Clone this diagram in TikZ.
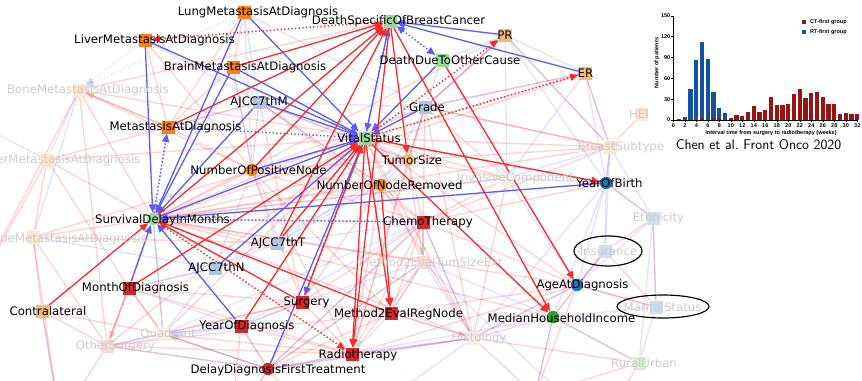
\documentclass[tikz,border=0pt]{standalone}
\usepackage{fontspec}
\setmainfont{DejaVu Sans}
\newfontfamily\chartfont{Liberation Sans}
\usetikzlibrary{arrows.meta}
\pgfdeclarelayer{edges}
\pgfsetlayers{edges,main}

\definecolor{metaorange}{RGB}{250,128,20}
\definecolor{numorange}{RGB}{255,127,14}
\definecolor{paleorange}{RGB}{247,185,120}
\definecolor{paleblue}{RGB}{175,198,226}
\definecolor{palegreen}{RGB}{152,216,152}
\definecolor{treatred}{RGB}{214,39,40}
\definecolor{demoblue}{RGB}{31,119,180}
\definecolor{demogreen}{RGB}{44,160,44}
\definecolor{fadeorange}{RGB}{253,228,205}
\definecolor{fadepink}{RGB}{247,215,215}
\definecolor{fadecream}{RGB}{245,236,226}
\definecolor{fadeblue}{RGB}{205,222,238}
\definecolor{fadegreen}{RGB}{212,238,212}
\definecolor{linered}{RGB}{255,40,40}
\definecolor{lineblue}{RGB}{90,90,255}
\definecolor{tipgreen}{RGB}{90,160,90}
\definecolor{ctred}{RGB}{155,18,18}
\definecolor{rtblue}{RGB}{16,84,160}

\begin{document}
\begin{tikzpicture}[x=0.03cm, y=-0.03cm,
  sq/.style={rectangle, minimum size=0.39cm, inner sep=0pt},
  ci/.style={circle, minimum size=0.37cm, inner sep=0pt},
  lbl/.style={inner sep=0pt, font=\fontsize{10}{12}\selectfont},
  dimlbl/.style={lbl, text=black!20},
  tip/.style={-{Triangle[length=7pt,width=6pt]}},
  sr/.style={draw=linered, line width=1.1pt, tip},
  sb/.style={draw=lineblue, line width=1.1pt, tip},
  srd/.style={sr, dotted, line width=1.3pt},
  sbd/.style={sb, dotted, line width=1.3pt},
  fr/.style={draw=linered, opacity=0.2, line width=1.2pt},
  fb/.style={draw=lineblue, opacity=0.17, line width=1.2pt},
  gtip/.style={-{Triangle[length=7pt,width=6pt,color=tipgreen]}},
  chartlbl/.style={inner sep=0pt, font=\chartfont\bfseries\fontsize{4.7}{5.5}\selectfont},
  ]
\useasboundingbox (0,0) rectangle (862,380);

\node[sq, fill=metaorange] (lung) at (244,12) {};
\node[sq, fill=metaorange] (liver) at (145,40) {};
\node[sq, fill=metaorange] (brain) at (233,67) {};
\node[sq, fill=fadeorange] (bone) at (79,90) {};
\node[sq, fill=paleblue] (ajccm) at (259,102) {};
\node[sq, fill=metaorange] (meta) at (168,127) {};
\node[sq, fill=fadeorange] (othmeta) at (47,160) {};
\node[ci, fill=palegreen] (surv) at (153,219) {};
\node[sq, fill=fadeorange] (dlnmeta) at (33,237) {};
\node[sq, fill=paleblue] (ajcct) at (277,243) {};
\node[sq, fill=paleblue] (ajccn) at (215,268) {};
\node[sq, fill=treatred] (month) at (129,288) {};
\node[sq, fill=paleorange] (contra) at (42,311) {};
\node[sq, fill=treatred] (yeardx) at (241,326) {};
\node[sq, fill=fadecream] (quad) at (163,334) {};
\node[sq, fill=fadepink] (othsurg) at (107,346) {};
\node[ci, fill=treatred] (delay) at (268,369) {};
\node[sq, fill=treatred] (surg) at (302,302) {};
\node[sq, fill=treatred] (radio) at (352,354) {};
\node[sq, fill=treatred] (meth) at (391,313) {};
\node[sq, fill=fadepink] (methts) at (423,262) {};
\node[sq, fill=treatred] (chemo) at (423,222) {};
\node[sq, fill=fadecream] (hist) at (473,338) {};
\node[ci, fill=numorange] (nrem) at (381,185) {};
\node[ci, fill=paleorange] (tsize) at (408,160) {};
\node[ci, fill=numorange] (npos) at (252,170) {};
\node[sq, fill=palegreen] (vital) at (365,138) {};
\node[sq, fill=paleblue] (grade) at (425,107) {};
\node[sq, fill=palegreen] (dbc) at (390,21) {};
\node[sq, fill=palegreen] (doc) at (442,60) {};
\node[sq, fill=paleorange] (pr) at (505,35) {};
\node[sq, fill=paleorange] (er) at (585,73) {};
\node[sq, fill=fadecream] (invas) at (507,178) {};
\node[sq, fill=fadeorange] (bsub) at (610,147) {};
\node[sq, fill=fadeorange] (her) at (642,114) {};
\node[ci, fill=demoblue] (ybirth) at (606,183) {};
\node[sq, fill=fadeblue] (ethn) at (653,218) {};
\node[sq, fill=fadeblue] (insur) at (605,251) {};
\node[ci, fill=demoblue] (agedx) at (577,285) {};
\node[ci, fill=demogreen] (income) at (553,317) {};
\node[sq, fill=fadeblue] (marital) at (656,307) {};
\node[sq, fill=fadegreen] (rural) at (639,363) {};

\node[lbl] (lung-l) at (258,12) {LungMetastasisAtDiagnosis};
\node[lbl] (liver-l) at (154.5,40) {LiverMetastasisAtDiagnosis};
\node[lbl] (brain-l) at (245,67) {BrainMetastasisAtDiagnosis};
\node[dimlbl] (bone-l) at (88,90) {BoneMetastasisAtDiagnosis};
\node[lbl] (ajccm-l) at (259,102) {AJCC7thM};
\node[lbl] (meta-l) at (175.5,127) {MetastasisAtDiagnosis};
\node[dimlbl, anchor=east] (othmeta-l) at (140.5,160) {OtherMetastasisAtDiagnosis};
\node[lbl] (surv-l) at (162.5,220) {SurvivalDelayInMonths};
\node[dimlbl, anchor=east] (dlnmeta-l) at (147,239) {DistantLymphNodeMetastasisAtDiagnosis};
\node[lbl] (ajcct-l) at (278,243) {AJCC7thT};
\node[lbl] (ajccn-l) at (216.5,268) {AJCC7thN};
\node[lbl] (month-l) at (135.5,288) {MonthOfDiagnosis};
\node[lbl] (contra-l) at (48,311) {Contralateral};
\node[lbl] (yeardx-l) at (247,326) {YearOfDiagnosis};
\node[dimlbl] (quad-l) at (168,334) {Quadrant};
\node[dimlbl] (othsurg-l) at (115.5,346) {OtherSurgery};
\node[lbl] (delay-l) at (278,370) {DelayDiagnosisFirstTreatment};
\node[lbl] (surg-l) at (306.5,302) {Surgery};
\node[lbl] (radio-l) at (358,355) {Radiotherapy};
\node[lbl] (meth-l) at (398.5,314) {Method2EvalRegNode};
\node[dimlbl] (methts-l) at (431,262) {Method2EvalTumSizeExt};
\node[lbl] (chemo-l) at (428,222) {ChemoTherapy};
\node[dimlbl] (hist-l) at (479,338) {Histology};
\node[lbl] (nrem-l) at (389.5,185) {NumberOfNodeRemoved};
\node[lbl] (tsize-l) at (412,160) {TumorSize};
\node[lbl] (npos-l) at (258.5,170) {NumberOfPositiveNode};
\node[lbl] (vital-l) at (369,138) {VitalStatus};
\node[lbl] (grade-l) at (427,107) {Grade};
\node[lbl] (dbc-l) at (398.5,21) {DeathSpecificOfBreastCancer};
\node[lbl] (doc-l) at (450,60) {DeathDueToOtherCause};
\node[lbl] (pr-l) at (505,35) {PR};
\node[lbl] (er-l) at (585.5,73) {ER};
\node[dimlbl] (invas-l) at (515.5,178) {InvasiveComponent};
\node[dimlbl] (bsub-l) at (621,147) {BreastSubtype};
\node[dimlbl] (her-l) at (645,114) {HER2};
\node[lbl] (ybirth-l) at (609.5,183) {YearOfBirth};
\node[dimlbl] (ethn-l) at (658.5,218) {Ethnicity};
\node[dimlbl] (insur-l) at (608.5,251) {Insurance};
\node[lbl] (agedx-l) at (582.5,285) {AgeAtDiagnosis};
\node[lbl] (income-l) at (561.5,318) {MedianHouseholdIncome};
\node[dimlbl] (marital-l) at (662.5,307) {MaritalStatus};
\node[dimlbl] (rural-l) at (644,363) {RuralUrban};

\draw[line width=1pt] (608,251) ellipse [x radius=1.02cm, y radius=0.45cm];
\draw[line width=1pt] (663,306.5) ellipse [x radius=1.38cm, y radius=0.345cm];

\begin{pgfonlayer}{edges}
\clip (0,0) rectangle (862,380);
\coordinate (offA) at (60,420);
\coordinate (offB) at (230,430);
\coordinate (offC) at (330,440);
\coordinate (offD) at (535,395);
\coordinate (offE) at (600,430);
\coordinate (offF) at (-30,300);
\coordinate (offG) at (-30,120);

\foreach \a/\b in {bone/meta, bone/surv, bone/vital, bone/npos, bone/dbc, bone/othsurg, bone/offF,
  othmeta/meta, othmeta/surv, othmeta/vital, othmeta/dlnmeta, othmeta/offF, othmeta/month,
  dlnmeta/surv, dlnmeta/vital, dlnmeta/othsurg, dlnmeta/offA, dlnmeta/ajcct,
  liver/meta, liver/npos, lung/meta, lung/brain, brain/meta, brain/npos, meta/npos, meta/ajccm,
  ajccm/npos, ajccm/tsize, ajccm/nrem, ajccm/chemo, ajccm/surg,
  npos/surv, npos/nrem, npos/tsize, npos/chemo, npos/surg, npos/radio, npos/meth,
  nrem/surv, nrem/chemo, nrem/radio, nrem/surg, nrem/hist,
  tsize/surv, tsize/grade, tsize/chemo, tsize/methts, tsize/radio,
  grade/surv, grade/chemo, grade/er, grade/pr, grade/bsub, grade/hist, grade/radio,
  chemo/surv, chemo/surg, chemo/meth, chemo/hist, chemo/delay,
  surg/radio, surg/delay, surg/othsurg, surg/quad, surg/meth,
  radio/delay, radio/quad, radio/othsurg, radio/hist,
  meth/delay, meth/methts, meth/othsurg,
  methts/surv, methts/vital, methts/radio, methts/delay,
  hist/surv, hist/vital, hist/delay, hist/agedx, hist/offD,
  quad/surv, quad/vital, quad/delay, quad/month,
  othsurg/surv, othsurg/vital, othsurg/delay, othsurg/contra, othsurg/month, othsurg/offA,
  contra/quad, contra/offA, contra/dlnmeta,
  month/surg, month/radio, month/quad,
  yeardx/surg, yeardx/radio, yeardx/delay, yeardx/offB,
  delay/offB, delay/offC,
  invas/vital, invas/surv, invas/tsize, invas/grade, invas/chemo, invas/hist,
  bsub/vital, bsub/surv, bsub/her, bsub/er, bsub/pr, bsub/grade, bsub/tsize, bsub/chemo,
  er/vital, pr/surv, er/surv, pr/grade,
  agedx/vital, agedx/surv, agedx/chemo, agedx/radio, agedx/insur, agedx/marital, agedx/offD, agedx/meth,
  income/surv, income/hist, income/rural, income/offD, income/insur,
  ybirth/vital, ybirth/bsub, ybirth/chemo,
  ethn/insur, ethn/marital, ethn/ybirth,
  insur/marital, marital/agedx,
  rural/hist, rural/offD, rural/offE}
  \draw[fr] (\a) -- (\b);

\foreach \a/\b in {bone/othmeta, bone/dlnmeta, othmeta/offG,
  liver/ajccm, lung/ajccm, lung/grade, lung/npos, brain/ajccm, brain/npos, meta/ajccm, meta/surv,
  ajccm/grade, ajccm/tsize, ajccm/nrem,
  ajccn/ajcct, ajccn/npos, ajccn/nrem, ajccn/month, ajcct/npos, ajcct/nrem, ajcct/tsize, ajcct/chemo,
  npos/grade, nrem/tsize, nrem/grade, tsize/grade, grade/pr, grade/er,
  pr/er, pr/invas, pr/bsub, pr/ybirth, er/bsub, er/invas, er/ybirth,
  doc/grade, doc/invas, doc/pr,
  invas/bsub, invas/ybirth, invas/agedx, invas/surv,
  bsub/ybirth, bsub/ethn, bsub/insur,
  ybirth/ethn, ybirth/insur, ybirth/agedx, ybirth/income, ybirth/hist,
  ethn/rural, ethn/marital, ethn/agedx,
  marital/rural, marital/income, insur/agedx, agedx/income, agedx/hist,
  income/rural, income/methts, income/offD, income/delay,
  hist/methts, hist/chemo, hist/radio, hist/meth, hist/delay, hist/offC,
  methts/chemo, methts/surg, methts/meth, methts/delay, methts/offE,
  chemo/delay, chemo/yeardx, chemo/quad,
  surg/yeardx, meth/radio,
  delay/yeardx, delay/quad, delay/offB,
  quad/othsurg, quad/yeardx, quad/ajccn, quad/surv,
  othsurg/yeardx, othsurg/delay,
  contra/offA, month/yeardx, month/ajccn, dlnmeta/ajccn}
  \draw[fb] (\a) -- (\b);

\draw[fb, dotted, tip] (liver) -- (bone);
\draw[fb, dotted, tip] (lung) -- (bone);
\draw[fr, tip] (meta) -- (bone);
\draw[fr, tip] (month) -- (othsurg);
\draw[fr, tip] (meth) -- (hist);
\draw[fb, tip] (yeardx) -- (quad);
\draw[fr, gtip] (chemo) -- (radio);
\draw[fr, gtip] (tsize) -- (vital);
\draw[fr, gtip] (chemo) -- (methts);
\draw[fr, gtip] (delay) -- (quad);
\draw[fr, gtip] (ajcct) -- (surv);

\foreach \a/\b in {liver/surv, lung/surv, brain/surv, ajccm/surv, month/surv, yeardx/surv, ybirth/surv,
  liver/vital, lung/vital, brain/vital, ajccm/vital, npos/vital, doc/vital, grade/vital,
  ajccn/vital, delay/vital, surv/vital, vital/dbc, pr/dbc, er/dbc}
  \draw[sb] (\a) -- (\b);

\foreach \a/\b in {meta/vital, surv/meta, chemo/surv, dbc/vital, vital/surg}
  \draw[sbd] (\a) -- (\b);
\draw[sbd, {Triangle[length=7pt,width=6pt]}-{Triangle[length=7pt,width=6pt]}] (dbc) -- (doc);

\foreach \a/\b in {contra/surv, surg/surv, meth/surv, month/vital, yeardx/vital, ajcct/vital, surg/vital,
  surv/dbc, meta/dbc, npos/dbc, ajcct/dbc, brain/dbc, vital/ybirth, vital/income, vital/radio,
  vital/meth, nrem/meth, dbc/tsize, dbc/radio, dbc/income, doc/agedx}
  \draw[sr] (\a) -- (\b);

\foreach \a/\b in {vital/pr, vital/er, dbc/liver, surv/radio}
  \draw[srd] (\a) -- (\b);
\end{pgfonlayer}

% inset bar chart
\fill[white] (648,0) rectangle (862,131);
\draw[line width=0.4pt] (673.3,15.7) -- (673.3,120) -- (857.3,120);
\foreach \v in {0,30,...,150} {
  \draw[line width=0.4pt] (671.3,{120-0.694*\v}) -- (673.3,{120-0.694*\v});
  \node[chartlbl, anchor=east] (yt\v) at (670.5,{120-0.694*\v}) {\v};
}
\foreach \w in {0,2,...,32} {
  \draw[line width=0.4pt] ({673.3+5.75*\w},120) -- ({673.3+5.75*\w},121.8);
  \node[chartlbl] (xt\w) at ({673.3+5.75*\w},126) {\w};
}
\foreach \w/\v in {1/1,2/5,3/44,4/87,5/112,6/88,7/40,8/18,9/10}
  \fill[rtblue] ({673.3+5.75*\w-2.1},120) rectangle ({673.3+5.75*\w+2.1},{120-0.694*\v});
\foreach \w/\v in {5/3,6/1,7/3,8/3,9/2,10/3,11/7,12/6,13/11,14/20,15/11,16/15,17/33,18/21,
  19/22,20/23,21/37,22/45,23/31,24/39,25/40,26/33,27/23,28/23,29/8,30/10,31/9,32/8}
  \fill[ctred] ({673.3+5.75*\w-2.1},120) rectangle ({673.3+5.75*\w+2.1},{120-0.694*\v});
\node[chartlbl, rotate=90] (ytitle) at (657,63) {Number of patients};
\node[chartlbl] (xtitle) at (771,133) {Interval time from surgery to radiotherapy (weeks)};
\fill[ctred] (802,19.8) rectangle (806.4,24.2);
\node[chartlbl, anchor=west] (ctfirst) at (810,22) {CT-first group};
\fill[rtblue] (802,29.8) rectangle (806.4,34.2);
\node[chartlbl, anchor=west] (rtfirst) at (810,32) {RT-first group};
\node[inner sep=0pt, font=\sffamily\fontsize{12}{14}\selectfont] (cite) at (758.5,145) {Chen et al.\ Front Onco 2020};
\end{tikzpicture}
\end{document}
